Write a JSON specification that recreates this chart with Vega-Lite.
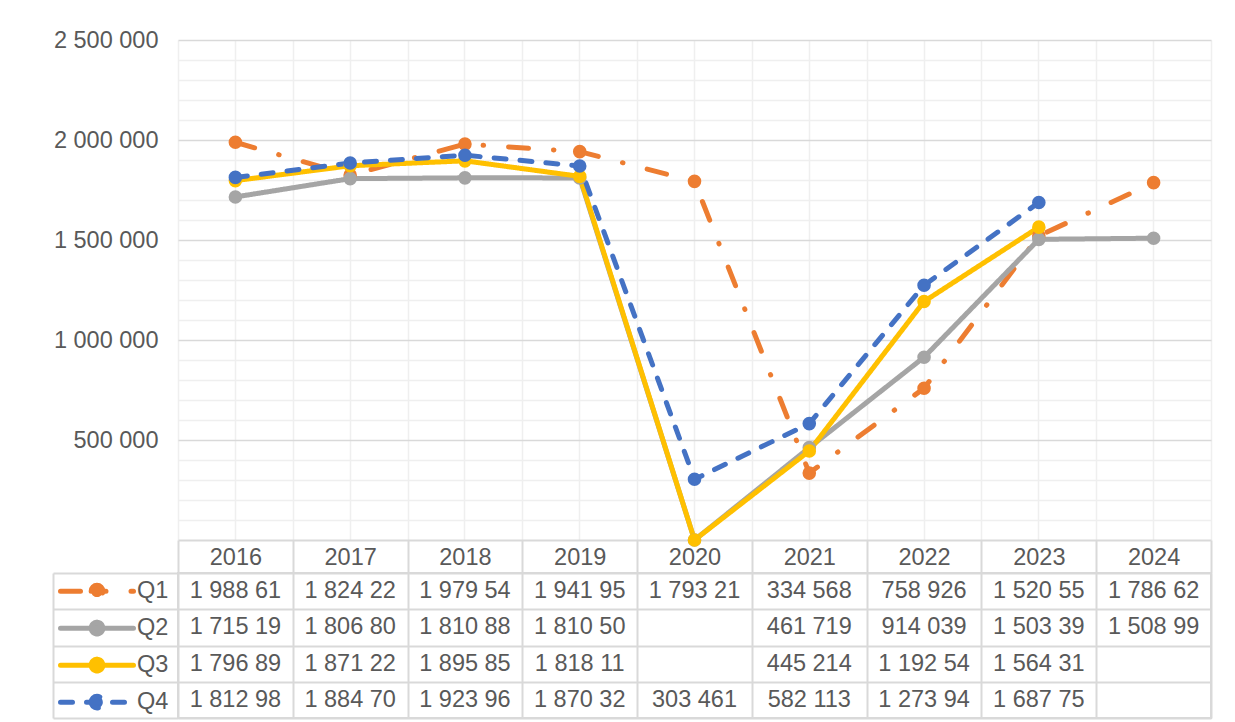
{
  "$schema": "https://vega.github.io/schema/vega-lite/v6.json",
  "padding": {"left": 51, "top": 28, "right": 25, "bottom": 3},
  "background": "white",
  "config": {
    "font": "Liberation Sans",
    "locale": {"number": {"decimal": ",", "thousands": " ", "grouping": [3], "currency": ["", ""]}},
    "view": {"stroke": null},
    "axis": {"labelFont": "Liberation Sans", "labelColor": "#595959", "labelFontSize": 23.5, "title": null}
  },
  "datasets": {
    "sales": [
      {"s": "Q1", "year": "2016", "v": 1988610},
      {"s": "Q1", "year": "2017", "v": 1824220},
      {"s": "Q1", "year": "2018", "v": 1979540},
      {"s": "Q1", "year": "2019", "v": 1941950},
      {"s": "Q1", "year": "2020", "v": 1793210},
      {"s": "Q1", "year": "2021", "v": 334568},
      {"s": "Q1", "year": "2022", "v": 758926},
      {"s": "Q1", "year": "2023", "v": 1520550},
      {"s": "Q1", "year": "2024", "v": 1786620},
      {"s": "Q2", "year": "2016", "v": 1715190},
      {"s": "Q2", "year": "2017", "v": 1806800},
      {"s": "Q2", "year": "2018", "v": 1810880},
      {"s": "Q2", "year": "2019", "v": 1810500},
      {"s": "Q2", "year": "2020", "v": 0},
      {"s": "Q2", "year": "2021", "v": 461719},
      {"s": "Q2", "year": "2022", "v": 914039},
      {"s": "Q2", "year": "2023", "v": 1503390},
      {"s": "Q2", "year": "2024", "v": 1508990},
      {"s": "Q3", "year": "2016", "v": 1796890},
      {"s": "Q3", "year": "2017", "v": 1871220},
      {"s": "Q3", "year": "2018", "v": 1895850},
      {"s": "Q3", "year": "2019", "v": 1818110},
      {"s": "Q3", "year": "2020", "v": 0},
      {"s": "Q3", "year": "2021", "v": 445214},
      {"s": "Q3", "year": "2022", "v": 1192540},
      {"s": "Q3", "year": "2023", "v": 1564310},
      {"s": "Q4", "year": "2016", "v": 1812980},
      {"s": "Q4", "year": "2017", "v": 1884700},
      {"s": "Q4", "year": "2018", "v": 1923960},
      {"s": "Q4", "year": "2019", "v": 1870320},
      {"s": "Q4", "year": "2020", "v": 303461},
      {"s": "Q4", "year": "2021", "v": 582113},
      {"s": "Q4", "year": "2022", "v": 1273940},
      {"s": "Q4", "year": "2023", "v": 1687750}
    ]
  },
  "bounds": "flush",
  "spacing": 33,
  "resolve": {"scale": {"x": "independent", "y": "independent"}},
  "vconcat": [
    {
      "width": 1033,
      "height": 500,
      "data": {"name": "sales"},
      "layer": [
        {
          "mark": {"type": "line", "strokeWidth": 5, "strokeCap": "round", "strokeJoin": "round"},
          "encoding": {
            "x": {
              "field": "year", "type": "ordinal",
              "scale": {"type": "band", "paddingInner": 0, "paddingOuter": 0},
              "axis": {
                "orient": "bottom", "domain": true, "domainColor": "#d9d9d9", "domainWidth": 2,
                "ticks": true, "tickBand": "extent", "tickSize": 33, "tickColor": "#d9d9d9", "tickWidth": 2,
                "labelAngle": 0, "labelBaseline": "middle", "labelPadding": -16,
                "grid": true, "gridColor": "#efefef", "gridWidth": 1.5, "title": null
              }
            },
            "y": {
              "field": "v", "type": "quantitative",
              "scale": {"domain": [0, 2500000], "nice": false, "zero": true},
              "axis": {
                "orient": "right", "domain": false, "ticks": false, "labels": false,
                "grid": true, "gridColor": "#efefef", "gridWidth": 1.5, "title": null,
                "values": [100000, 200000, 300000, 400000, 600000, 700000, 800000, 900000, 1100000, 1200000, 1300000, 1400000, 1600000, 1700000, 1800000, 1900000, 2100000, 2200000, 2300000, 2400000]
              }
            },
            "color": {
              "field": "s", "type": "nominal",
              "scale": {"domain": ["Q1", "Q2", "Q3", "Q4"], "range": ["#ED7D31", "#A5A5A5", "#FFC000", "#4472C4"]},
              "legend": {
                "orient": "none", "legendX": -125, "legendY": 533, "title": null, "direction": "vertical",
                "symbolType": "M-1,0H1M-0.16,0A0.16,0.16,0,1,1,0.16,0A0.16,0.16,0,1,1,-0.16,0Z",
                "symbolSize": 5329, "symbolStrokeWidth": 5, "symbolOffset": 5, "labelOffset": 1,
                "labelFontSize": 23.5, "labelColor": "#595959", "labelFont": "Liberation Sans",
                "clipHeight": 36.25, "rowPadding": 0, "padding": 0,
                "encode": {"symbols": {"update": {"fill": {"scale": "color", "field": "value"}, "strokeCap": {"value": "round"}}}}
              }
            },
            "strokeDash": {
              "field": "s", "type": "nominal",
              "scale": {"domain": ["Q1", "Q2", "Q3", "Q4"], "range": [[20, 25, 0.5, 25], [1, 0], [1, 0], [12, 14]]},
              "legend": {
                "orient": "none", "legendX": -125, "legendY": 533, "title": null, "direction": "vertical",
                "symbolType": "M-1,0H1M-0.16,0A0.16,0.16,0,1,1,0.16,0A0.16,0.16,0,1,1,-0.16,0Z",
                "symbolSize": 5329, "symbolStrokeWidth": 5, "symbolOffset": 5, "labelOffset": 1,
                "labelFontSize": 23.5, "labelColor": "#595959", "labelFont": "Liberation Sans",
                "clipHeight": 36.25, "rowPadding": 0, "padding": 0,
                "encode": {"symbols": {"update": {"fill": {"scale": "color", "field": "value"}, "strokeCap": {"value": "round"}}}}
              }
            }
          }
        },
        {
          "mark": {"type": "point", "filled": true, "size": 185, "opacity": 1},
          "encoding": {
            "x": {
              "field": "year", "type": "ordinal",
              "axis": {"orient": "top", "domain": false, "ticks": false, "labels": false, "grid": true, "gridColor": "#efefef", "gridWidth": 1.5, "title": null}
            },
            "y": {
              "field": "v", "type": "quantitative",
              "axis": {
                "orient": "left", "values": [500000, 1000000, 1500000, 2000000, 2500000], "format": ",d",
                "domain": false, "ticks": false, "labelPadding": 20,
                "grid": true, "gridColor": "#d9d9d9", "gridWidth": 1.5, "title": null
              }
            },
            "color": {"field": "s", "type": "nominal", "legend": null}
          }
        }
      ],
      "resolve": {"axis": {"x": "independent", "y": "independent"}}
    },
    {
      "width": 1033,
      "height": 145,
      "data": {"name": "sales"},
      "transform": [{"filter": "datum.v > 0"}],
      "view": {"stroke": "#d9d9d9", "strokeWidth": 2},
      "mark": {"type": "text", "fontSize": 23.5, "font": "Liberation Sans", "color": "#595959", "limit": 98, "ellipsis": "\u200b", "baseline": "middle", "align": "center"},
      "encoding": {
        "x": {
          "field": "year", "type": "ordinal",
          "scale": {"type": "band", "paddingInner": 0, "paddingOuter": 0, "domain": ["2016", "2017", "2018", "2019", "2020", "2021", "2022", "2023", "2024"]},
          "axis": {"orient": "bottom", "domain": false, "ticks": false, "labels": false, "grid": true, "tickBand": "extent", "gridColor": "#d9d9d9", "gridWidth": 2, "title": null}
        },
        "y": {
          "field": "s", "type": "nominal",
          "scale": {"domain": ["Q1", "Q2", "Q3", "Q4"], "paddingInner": 0, "paddingOuter": 0},
          "axis": {
            "orient": "left", "offset": 125, "domain": true, "domainColor": "#d9d9d9", "domainWidth": 2,
            "ticks": true, "tickBand": "extent", "tickSize": -125, "tickColor": "#d9d9d9", "tickWidth": 2,
            "labels": false, "grid": true, "gridColor": "#d9d9d9", "gridWidth": 2, "title": null
          }
        },
        "text": {"field": "v", "type": "quantitative", "format": ",d"}
      }
    }
  ]
}
